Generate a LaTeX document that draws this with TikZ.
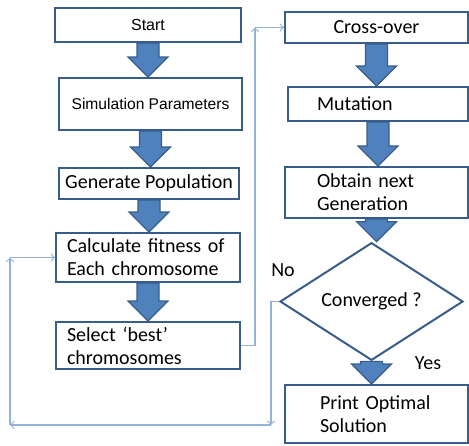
\documentclass[tikz,border=0pt]{standalone}
\usepackage{fontspec}
\setmainfont{Carlito}
\newfontfamily\arialfont{Liberation Sans}
\usetikzlibrary{shapes.geometric,calc}
\definecolor{boxline}{HTML}{385D8A}
\definecolor{arrowfill}{HTML}{4F81BD}
\definecolor{linkline}{HTML}{95B3D7}
\newcommand{\bigdown}[2]{%
    \draw[bigarrow] let \p1=(#1.south), \p2=(#2.north) in
        (\x1-5.5pt,\y1) -- (\x1-5.5pt,\y2+10pt) -- (\x1-10pt,\y2+10pt) -- (\x1,\y2)
        -- (\x1+10pt,\y2+10pt) -- (\x1+5.5pt,\y2+10pt) -- (\x1+5.5pt,\y1) -- cycle;}
\begin{document}
\begin{tikzpicture}[
        x=0.5pt, y=-0.5pt,
        font=\fontsize{10}{11.5}\selectfont,
        box/.style={rectangle, draw=boxline, line width=1pt, inner sep=0pt, align=left},
        decision/.style={diamond, draw=boxline, line width=1pt, inner sep=0pt},
        bigarrow/.style={fill=arrowfill, draw=boxline, line width=0.6pt},
        link/.style={draw=linkline, line width=0.6pt, ->}
    ]
    \useasboundingbox (0,0) rectangle (469,445);
    \node[box, minimum width=93pt, minimum height=17pt, font=\arialfont\fontsize{8}{9.6}\selectfont] (start) at (148,25) {Start};
    \node[box, minimum width=91.5pt, minimum height=26pt, font=\arialfont\fontsize{7.8}{9.4}\selectfont] (sim) at (150.5,104) {Simulation Parameters};
    \node[box, minimum width=90pt, minimum height=15.5pt] (gen) at (149,183.5) {Generate Population};
    \node[box, minimum width=92pt, minimum height=24.5pt, text width=81pt] (calc) at (148,257.5) {Calculate fitness of\\Each chromosome};
    \node[box, minimum width=92pt, minimum height=23.5pt, text width=81pt] (select) at (148,345.5) {Select ‘best’\\chromosomes};

    \node[box, minimum width=91.5pt, minimum height=15.5pt] (cross) at (376.5,27.5) {Cross-over};
    \node[box, minimum width=90pt, minimum height=17pt, text width=61pt] (mut) at (378,104) {Mutation};
    \node[box, minimum width=91.5pt, minimum height=25.5pt, text width=59.5pt] (next) at (376.5,192.5) {Obtain next\\Generation};
    \node[decision, minimum width=91.5pt, minimum height=48.5pt] (conv) at (371.5,301.5) {Converged ?};
    \node[box, minimum width=91.5pt, minimum height=29pt, text width=56.5pt] (print) at (376.5,414) {Print Optimal\\Solution};

    \node (no) at (283,270) {No};
    \node (yes) at (428,363) {Yes};

    \foreach \a/\b in {start/sim, sim/gen, gen/calc, calc/select, cross/mut, mut/next, next/conv, conv/print}
        \bigdown{\a}{\b};

    \coordinate (up) at (255,27.5);
    \coordinate (down) at (271,425);
    \coordinate (back) at (10,425);
    \coordinate (top) at (10,257.5);
    \draw[link] (select.east) -| (up);
    \draw[link] (up) -- (cross.west);
    \draw[link] (conv.west) -| (down);
    \draw[link] (down) -- (back);
    \draw[link] (back) -- (top);
    \draw[link] (top) -- (calc.west);
\end{tikzpicture}
\end{document}
